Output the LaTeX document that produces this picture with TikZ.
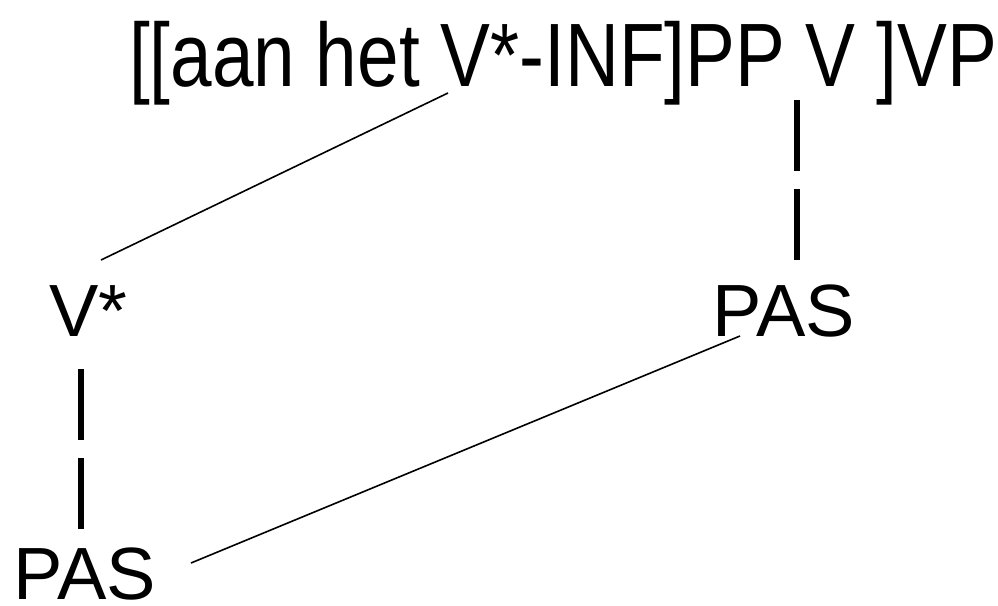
\documentclass[tikz,border=0pt]{standalone}
\usepackage{fontspec}
\setmainfont{Liberation Sans}
\begin{document}
\begin{tikzpicture}[x=1pt,y=-1pt,
  lbl/.style={inner sep=0pt,anchor=base,font=\fontsize{74}{80}\selectfont},
  biglbl/.style={inner sep=0pt,anchor=base,font=\fontsize{90}{96}\selectfont},
  thin/.style={line width=1.6pt},
  bar/.style={line width=6pt,dash pattern=on 71pt off 18pt}]
\useasboundingbox (0,0) rectangle (998,605);
\node[biglbl] (top) at (563,86) {\scalebox{0.83}[1]{[[aan het V*-INF]PP V ]VP}};
\node[lbl] (vstar) at (88.5,336) {V*};
\node[lbl] (pasr) at (783.5,336) {PAS};
\node[lbl] (pasl) at (84.5,599) {PAS};
\coordinate (t1) at (448,93);
\coordinate (v1) at (101,260);
\coordinate (tb) at (797,100);
\coordinate (pb) at (797,260);
\coordinate (vb) at (81,369);
\coordinate (lb) at (81,529);
\coordinate (p1) at (740,336);
\coordinate (l1) at (191,563);
\draw[thin] (t1) -- (v1);
\draw[bar] (tb) -- (pb);
\draw[bar] (vb) -- (lb);
\draw[thin] (p1) -- (l1);
\end{tikzpicture}
\end{document}
